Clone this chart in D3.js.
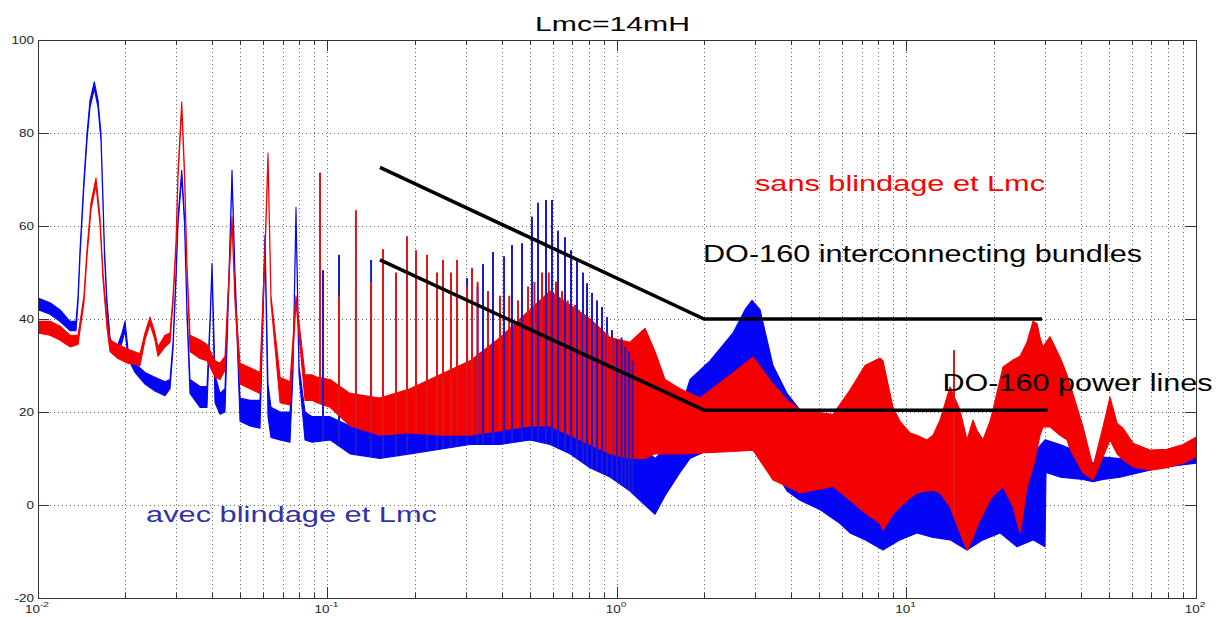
<!DOCTYPE html>
<html>
<head>
<meta charset="utf-8">
<script src="https://cdn.jsdelivr.net/npm/d3@7"></script>
<style>
  body { margin: 0; background: #fff; }
  svg { display: block; }
  text { font-family: "Liberation Sans", Arial, Helvetica, sans-serif; }
</style>
</head>
<body>
<svg id="chart" width="1221" height="617"></svg>
<script>
// ---- axis definitions ----
const xDomain = [0.01, 100];
const yDomain = [-20, 100];
const yTickValues = [-20, 0, 20, 40, 60, 80, 100];
const xDecades = [0.01, 0.1, 1, 10, 100];
const xDecadeExponents = ["-2", "-1", "0", "1", "2"];

// ---- spectrum envelopes (frequency, upper and lower level in dB) ----
// "avec blindage et Lmc"
const blueFreq = [0.0100, 0.0110, 0.0119, 0.0129, 0.01353, 0.01375, 0.01397, 0.01441, 0.01477, 0.01512, 0.01565, 0.01612, 0.01650, 0.01677, 0.01697, 0.01731, 0.01773, 0.01816, 0.01889, 0.01951, 0.01998, 0.02046, 0.02163, 0.02342, 0.02535, 0.02746, 0.02858, 0.02927, 0.02998, 0.03046, 0.03137, 0.03207, 0.03271, 0.03350, 0.03628, 0.03835, 0.03928, 0.03991, 0.04088, 0.04254, 0.04425, 0.04569, 0.04679, 0.04792, 0.04987, 0.05400, 0.05845, 0.06083, 0.06230, 0.06380, 0.06856, 0.07420, 0.07600, 0.07784, 0.07971, 0.08363, 0.08842, 0.1020, 0.1196, 0.1518, 0.1928, 0.2447, 0.3107, 0.3944, 0.5007, 0.5870, 0.6881, 0.8067, 0.946, 1.109, 1.249, 1.353, 1.465, 1.651, 1.787, 2.095, 2.516, 2.768, 2.927, 3.119, 3.459, 3.866, 4.287, 5.026, 5.892, 6.380, 7.188, 8.296, 9.495, 10.87, 12.35, 14.14, 16.18, 18.37, 21.04, 24.08, 27.35, 30.09, 30.33, 33.90, 40.71, 44.09, 47.73, 54.65, 64.06, 75.11, 100];
const blueHigh = [44.5, 43.5, 42, 39.5, 39.5, 45, 55, 70, 80, 87, 91, 87, 80, 66, 55, 44, 36, 34.5, 34.5, 37, 39.5, 33.5, 30.5, 28.5, 27.5, 26.5, 27, 35, 50, 62, 72, 62, 42, 27, 25.5, 25.5, 40, 52, 28, 24, 25, 50, 72, 50, 23, 22.5, 22.5, 58, 26, 21, 20, 20, 30, 64, 30, 20, 19, 19, 17, 16, 19, 22, 25, 28, 33, 34, 32, 28, 25, 18, 12, 10, 12, 20, 27, 31, 37, 42, 44, 42, 30, 24, 20.4, 19, 17, 12, 8, 6, 7, 8, 8, 5, 0, 5, 7, 9, 11, 14, 14, 13, 11, 9, 10.3, 10, 10, 10.5, 12];
const blueLow = [42, 41, 39.5, 37.5, 37.5, 43.5, 53.5, 68.5, 78.5, 85.5, 89.5, 85.5, 78.5, 64.5, 53.5, 42.5, 34, 32.5, 32.5, 35, 37.5, 31.5, 28.5, 26, 24.5, 23.5, 25, 33.5, 48.5, 60.5, 70.5, 60.5, 40.5, 24, 21, 21, 38.5, 50.5, 22, 19.5, 20, 48.5, 70.5, 48.5, 18, 17, 16.5, 56.5, 19, 14.5, 14, 13.5, 28.5, 62.5, 28, 14, 13.5, 14, 11, 10, 11, 12, 13, 13, 14, 13, 11, 8, 6, 3, 0, -2, 2, 7, 10, 12, 12, 12, 12, 11, 8, 3, 1, -1, -4, -6, -7.5, -9.7, -7.5, -6, -7, -7.5, -9.7, -7.5, -6, -9, -7.5, -9, 7, 6, 5.5, 5, 5.5, 6, 7, 8, 9];

// "sans blindage et Lmc"
const redFreq = [0.0100, 0.0110, 0.0119, 0.0129, 0.01375, 0.01441, 0.01477, 0.01524, 0.01586, 0.01637, 0.01677, 0.01731, 0.01773, 0.01889, 0.02046, 0.02251, 0.02342, 0.02437, 0.02535, 0.02597, 0.02746, 0.02858, 0.02927, 0.02998, 0.03046, 0.03137, 0.03207, 0.03271, 0.03350, 0.03628, 0.03835, 0.04088, 0.04254, 0.04425, 0.04569, 0.04679, 0.04792, 0.04987, 0.05400, 0.05845, 0.06083, 0.06230, 0.06380, 0.06856, 0.07420, 0.07784, 0.08363, 0.08842, 0.09200, 0.1020, 0.1196, 0.1518, 0.1928, 0.2447, 0.3107, 0.3944, 0.5007, 0.5870, 0.6881, 0.8067, 0.946, 1.109, 1.249, 1.353, 1.465, 1.651, 1.935, 2.516, 2.950, 3.459, 3.866, 4.287, 5.573, 6.380, 7.188, 8.100, 8.296, 8.981, 9.495, 10.28, 10.87, 11.77, 12.35, 13.06, 14.14, 15.30, 16.18, 16.97, 17.52, 18.37, 19.43, 19.89, 21.54, 23.33, 24.66, 25.26, 26.08, 27.35, 28.24, 28.92, 29.62, 31.31, 33.90, 35.84, 36.71, 40.71, 44.09, 47.73, 50.47, 53.36, 55.97, 60.58, 69.37, 79.40, 90.19, 100];
const redHigh = [39.5, 39.5, 38.5, 36.5, 36.5, 45, 55, 65, 70.3, 62, 50, 40, 35.5, 34.5, 33.5, 32.5, 37, 40.4, 37, 34, 36.5, 37, 45, 57, 72, 86.7, 72, 52, 36.5, 35.5, 34.5, 31, 30.5, 32, 50, 62, 45, 30.5, 29.5, 28.5, 55, 75.7, 45, 27.5, 26.5, 45, 28, 28, 27.5, 27, 24, 23, 25, 28, 31, 36, 42, 46, 43, 40, 36, 35, 38, 33, 27, 25, 23, 28.4, 31.8, 26, 22.6, 20.4, 19.5, 24.7, 30, 31.6, 31, 21, 18, 15.5, 15, 14, 15, 18.3, 25.4, 20.4, 14, 18.3, 16, 14, 18, 20.4, 29.7, 31.2, 32, 33.3, 35, 39.5, 39, 36, 34, 36.2, 31.8, 28, 26, 16.8, 8.2, 16.8, 23.2, 17.6, 16.5, 13.3, 11.8, 12, 13, 14.6];
const redLow = [37, 36.5, 35.5, 34, 34.5, 43.5, 53.5, 63.5, 68.8, 60.5, 48.5, 38, 33, 31.5, 30.5, 30, 35.5, 38.9, 35.5, 32, 34, 35, 43.5, 55.5, 70.5, 85.2, 70.5, 50.5, 33, 31.5, 31, 27.5, 27, 29, 48.5, 60.5, 43.5, 26, 25, 24, 53.5, 74.2, 43.5, 22, 21.5, 43.5, 22.5, 22.5, 22, 21, 17, 15, 15.5, 15, 15, 16, 17, 17, 15, 13, 11, 10, 10, 11, 11, 11, 11.2, 11.5, 11.8, 5.4, 4, 2.6, 4, 1, -1.7, -4, -5.4, -2, -0.4, 1.5, 2.6, 3, 3.2, 2.6, -0.4, -6, -9.7, -7, -4.7, -2, 1, 2, 3.9, -0.4, -6, -2, 3.9, 8, 11.8, 15, 16.8, 16.8, 15, 14, 12, 6.9, 5.4, 10.3, 14, 11, 9.7, 8.2, 7.5, 8, 9, 10.3];

// ---- narrow harmonic spikes (frequency, peak level in dB) ----
const blueSpikeFreq = [0.0965, 0.1096, 0.1254, 0.1414, 0.1555, 0.1724, 0.1882, 0.2207, 0.2389, 0.2506, 0.2670, 0.2802, 0.3034, 0.3300, 0.3445, 0.3730, 0.4072, 0.4339, 0.4697, 0.5087, 0.5334, 0.5685, 0.5964, 0.6256, 0.6613, 0.6936, 0.7275, 0.7630, 0.7877, 0.8196, 0.8530, 0.8876, 0.9237, 0.9610, 1.000, 1.037, 1.068, 1.100, 1.131];
const blueSpikePeak = [50.5, 53.8, 47, 52.7, 45, 48, 44, 42, 41, 44, 44, 45, 48.8, 47, 51.8, 54.4, 53.5, 55.9, 56.3, 62, 65, 65.6, 65.6, 59, 57.6, 54.8, 52.7, 50, 47.7, 45.6, 44, 42.6, 40.4, 37.6, 35.5, 36, 34, 33, 31];
const redSpikeFreq = [0.0942, 0.1096, 0.1254, 0.1414, 0.1555, 0.1724, 0.1882, 0.2022, 0.2207, 0.2389, 0.2506, 0.2670, 0.2802, 0.3034, 0.3156, 0.3300, 0.3585, 0.3944, 0.4243, 0.4550, 0.4928, 0.5185, 0.5507, 0.5813, 0.6157, 0.6457, 0.6756, 0.7160, 0.7384, 0.7698, 0.8067, 0.8326, 0.8735, 0.9268, 0.9582, 14.59];
const redSpikePeak = [71.5, 45, 63.4, 48, 55, 50, 57.8, 54.8, 53.8, 50, 52.7, 50, 52.7, 47, 51, 48, 46, 45, 45, 44, 47, 48, 50, 50, 48, 46, 44, 43, 42, 41, 40, 39, 38, 37, 36, 33.3];

// ---- DO-160 limit lines ----
const bundleFreq = [0.1518, 2, 29.4];
const bundleLevel = [72.6, 40, 40];
const powerFreq = [0.1518, 2, 30.8];
const powerLevel = [52.7, 20.4, 20.4];

// ---- layout ----
const W = 1221, H = 617;
const plot = { left: 38, right: 1196, top: 40, bottom: 598 };
const blueColor = "#0505f5";
const redColor = "#f50000";

const svg = d3.select("#chart");
svg.append("rect").attr("width", W).attr("height", H).attr("fill", "#fff");

const x = d3.scaleLog().domain(xDomain).range([plot.left, plot.right]);
const y = d3.scaleLinear().domain(yDomain).range([plot.bottom, plot.top]);

svg.append("clipPath").attr("id", "plotClip")
  .append("rect")
  .attr("x", plot.left).attr("y", plot.top)
  .attr("width", plot.right - plot.left).attr("height", plot.bottom - plot.top);

// ---- dotted grid ----
const grid = svg.append("g");
const xGridValues = x.ticks().filter(v => v > xDomain[0] && v < xDomain[1]);
grid.selectAll("line.vx").data(xGridValues).join("line")
  .attr("x1", d => Math.round(x(d)) + 0.5).attr("x2", d => Math.round(x(d)) + 0.5)
  .attr("y1", plot.top).attr("y2", plot.bottom)
  .attr("stroke", "#666").attr("stroke-width", 1).attr("stroke-dasharray", "1,3");
grid.selectAll("line.hy").data(yTickValues.filter(v => v > yDomain[0] && v < yDomain[1])).join("line")
  .attr("x1", plot.left).attr("x2", plot.right)
  .attr("y1", d => Math.round(y(d)) + 0.5).attr("y2", d => Math.round(y(d)) + 0.5)
  .attr("stroke", "#666").attr("stroke-width", 1).attr("stroke-dasharray", "1,3");

// ---- spectra ----
const data = svg.append("g").attr("clip-path", "url(#plotClip)");

function band(freq, hi, lo) {
  return freq.map((f, i) => ({ f, hi: hi[i], lo: lo[i] }));
}
const blueBand = band(blueFreq, blueHigh, blueLow);
const redBand = band(redFreq, redHigh, redLow);

const area = d3.area()
  .x(d => x(d.f))
  .y0(d => y(d.lo))
  .y1(d => y(d.hi));

// lower envelope at an arbitrary frequency, for the foot of a spike
function lowAt(b, f) {
  const i = d3.bisector(d => d.f).left(b, f);
  if (i <= 0) return b[0].lo;
  if (i >= b.length) return b[b.length - 1].lo;
  const a = b[i - 1], c = b[i];
  const t = (Math.log(f) - Math.log(a.f)) / (Math.log(c.f) - Math.log(a.f));
  return a.lo + t * (c.lo - a.lo);
}

data.append("path").datum(blueBand).attr("d", area)
  .attr("fill", blueColor).attr("stroke", blueColor).attr("stroke-width", 1.1)
  .attr("stroke-linejoin", "round");
data.append("path").datum(redBand).attr("d", area)
  .attr("fill", redColor).attr("stroke", redColor).attr("stroke-width", 1.1)
  .attr("stroke-linejoin", "round");

const blueSpikes = blueSpikeFreq.map((f, i) => ({ f, peak: blueSpikePeak[i], base: lowAt(blueBand, f) }));
const redSpikes = redSpikeFreq.map((f, i) => ({ f, peak: redSpikePeak[i], base: lowAt(redBand, f) }));

data.selectAll("line.bs").data(blueSpikes).join("line")
  .attr("x1", d => x(d.f)).attr("x2", d => x(d.f))
  .attr("y1", d => y(d.base)).attr("y2", d => y(d.peak))
  .attr("stroke", "#1a1ad0").attr("stroke-width", 2);
data.selectAll("line.rs").data(redSpikes).join("line")
  .attr("x1", d => x(d.f)).attr("x2", d => x(d.f))
  .attr("y1", d => y(d.base)).attr("y2", d => y(d.peak))
  .attr("stroke", "#e01515").attr("stroke-width", 2);

// ---- limit lines ----
const limitLine = d3.line().x(d => x(d[0])).y(d => y(d[1]));
[[bundleFreq, bundleLevel], [powerFreq, powerLevel]].forEach(([fs, ls]) => {
  svg.append("path").datum(fs.map((f, i) => [f, ls[i]])).attr("d", limitLine)
    .attr("fill", "none").attr("stroke", "#000").attr("stroke-width", 3.5)
    .attr("stroke-linejoin", "miter");
});

// ---- axes box and ticks ----
const axes = svg.append("g").attr("stroke", "#333").attr("stroke-width", 1);
axes.append("rect")
  .attr("x", plot.left + 0.5).attr("y", plot.top + 0.5)
  .attr("width", plot.right - plot.left).attr("height", plot.bottom - plot.top)
  .attr("fill", "none");
const xTickAll = x.ticks().filter(v => v > xDomain[0] && v < xDomain[1]);
xTickAll.forEach(v => {
  const px = Math.round(x(v)) + 0.5;
  const major = xDecades.some(d => Math.abs(d - v) / d < 1e-6);
  const len = major ? 11 : 5;
  axes.append("line").attr("x1", px).attr("x2", px).attr("y1", plot.bottom).attr("y2", plot.bottom - len);
  axes.append("line").attr("x1", px).attr("x2", px).attr("y1", plot.top).attr("y2", plot.top + len);
});
yTickValues.filter(v => v > yDomain[0] && v < yDomain[1]).forEach(v => {
  const py = Math.round(y(v)) + 0.5;
  axes.append("line").attr("x1", plot.left).attr("x2", plot.left + 11).attr("y1", py).attr("y2", py);
  axes.append("line").attr("x1", plot.right).attr("x2", plot.right - 11).attr("y1", py).attr("y2", py);
});

// ---- tick labels (slightly wide lettering) ----
const SX = 1.35;
const yLabels = svg.append("g");
yTickValues.forEach(v => {
  yLabels.append("text")
    .attr("transform", `translate(34,${y(v) + 4}) scale(${SX},1)`)
    .attr("text-anchor", "end").attr("font-size", 10).attr("fill", "#222")
    .text(String(v));
});
const xLabels = svg.append("g");
xDecades.forEach((v, i) => {
  const t = xLabels.append("text")
    .attr("transform", `translate(${x(v) - 1},613) scale(${SX},1)`)
    .attr("text-anchor", "middle").attr("font-size", 10).attr("fill", "#222");
  t.append("tspan").text("10");
  t.append("tspan").attr("dy", -6).attr("font-size", 7.5).text(xDecadeExponents[i]);
});

// ---- title and annotations ----
function wideText(opts) {
  svg.append("text")
    .attr("x", opts.x).attr("y", opts.y)
    .attr("font-size", opts.size).attr("fill", opts.fill)
    .attr("textLength", opts.width).attr("lengthAdjust", "spacingAndGlyphs")
    .text(opts.text);
}
wideText({ text: "Lmc=14mH", x: 535, y: 30.5, size: 21, fill: "#000", width: 155 });
wideText({ text: "sans blindage et Lmc", x: 755, y: 191, size: 22, fill: "#ff0000", width: 290 });
wideText({ text: "DO-160 interconnecting bundles", x: 703, y: 262, size: 23, fill: "#000", width: 439 });
wideText({ text: "DO-160 power lines", x: 942.5, y: 390.5, size: 23, fill: "#000", width: 270 });
wideText({ text: "avec blindage et Lmc", x: 146, y: 522, size: 22, fill: "#3232a8", width: 291 });
</script>
</body>
</html>
